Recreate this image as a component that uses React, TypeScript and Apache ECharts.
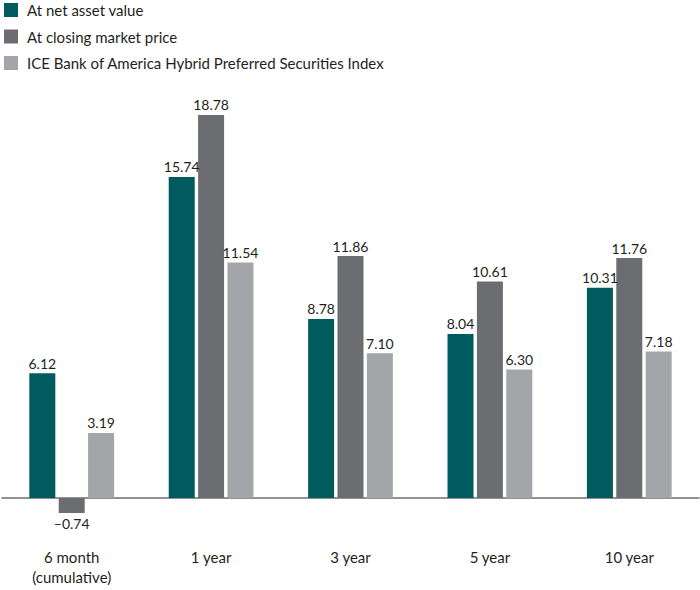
import React, { useEffect, useRef } from "react";
import * as echarts from "echarts";

const categories = ["6 month\n(cumulative)", "1 year", "3 year", "5 year", "10 year"];
const seriesNames = [
  "At net asset value",
  "At closing market price",
  "ICE Bank of America Hybrid Preferred Securities Index",
];
const navValues = [6.12, 15.74, 8.78, 8.04, 10.31];
const marketValues = [-0.74, 18.78, 11.86, 10.61, 11.76];
const indexValues = [3.19, 11.54, 7.1, 6.3, 7.18];
const colors = ["#005b5f", "#6c6d70", "#a4a5a8"];

const FONT = "Lato, 'Liberation Sans', sans-serif";

export default function App() {
  const ref = useRef<HTMLDivElement>(null);
  useEffect(() => {
    document.body.style.margin = "0";
    if (!ref.current) return;
    const chart = echarts.init(ref.current, undefined, { renderer: "svg" });
    const all = [navValues, marketValues, indexValues];
    const series = all.map((vals, i) => ({
      name: seriesNames[i],
      type: "bar",
      barWidth: 26,
      barGap: "13%",
      itemStyle: { color: colors[i] },
      data: vals.map((v) => ({
        value: v,
        label: { position: v < 0 ? "bottom" : "top" },
      })),
      label: {
        show: true,
        distance: 3,
        color: "#231f20",
        fontFamily: FONT,
        fontSize: 14,
        formatter: (p: any) => p.value.toFixed(2).replace("-", "\u2013"),
      },
    }));
    chart.setOption({
      animation: false,
      textStyle: { fontFamily: FONT },
      legend: {
        orient: "vertical",
        left: 4,
        top: 1,
        padding: 0,
        itemWidth: 14,
        itemHeight: 14,
        itemGap: 8.5,
        icon: "rect",
        textStyle: {
          fontSize: 15,
          lineHeight: 18,
          color: "#231f20",
          fontFamily: FONT,
          padding: [0, 0, 0, 4],
        },
        data: seriesNames,
      },
      grid: { left: 2, right: 1, top: 90, height: 428.4, outerBoundsMode: "none" },
      xAxis: {
        type: "category",
        data: categories,
        axisTick: { show: false },
        axisLine: { onZero: true, lineStyle: { color: "#6d6e71", width: 1.5 } },
        axisLabel: {
          margin: 29,
          fontSize: 15,
          lineHeight: 20,
          color: "#231f20",
          fontFamily: FONT,
        },
      },
      yAxis: {
        type: "value",
        min: -1,
        max: 20,
        show: false,
        splitLine: { show: false },
      },
      series,
    });
    return () => chart.dispose();
  }, []);
  return <div ref={ref} style={{ width: 700, height: 590 }} />;
}
